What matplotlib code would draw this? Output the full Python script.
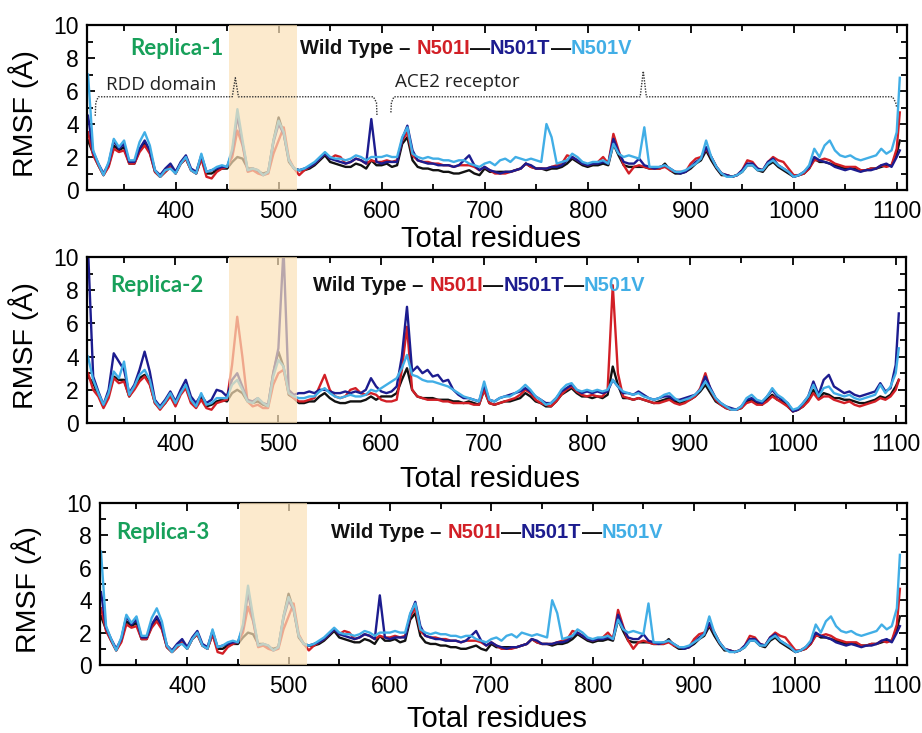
import numpy as np
import matplotlib

matplotlib.use("Agg")
import matplotlib.pyplot as plt
import matplotlib.transforms as mtransforms
from matplotlib.ticker import MultipleLocator

# residue numbers (every 5th residue, last frame at 1103)
residues = np.append(np.arange(315, 1101, 5), 1103)

# ---- replica 1 (replica 3 is the same profile) ----
r1_wt = [
    3.0, 2.2, 1.5, 0.9, 1.5, 2.7, 2.4, 2.6, 1.6, 1.6,
    2.4, 2.8, 2.3, 1.1, 0.8, 1.1, 1.4, 1.0, 1.6, 1.9,
    1.2, 1.0, 1.9, 1.0, 1.0, 1.2, 1.3, 1.3, 1.7, 2.0,
    1.9, 1.3, 1.3, 1.1, 1.0, 1.1, 3.0, 4.4, 3.4, 1.7,
    1.3, 1.2, 1.2, 1.3, 1.5, 1.8, 2.1, 1.7, 1.6, 1.5,
    1.4, 1.4, 1.6, 1.5, 1.3, 1.8, 1.5, 1.5, 1.6, 1.4,
    1.5, 2.8, 3.2, 1.8, 1.4, 1.3, 1.3, 1.2, 1.2, 1.1,
    1.1, 1.0, 1.0, 1.1, 1.2, 1.0, 0.9, 1.3, 1.1, 1.1,
    1.1, 1.1, 1.1, 1.2, 1.3, 1.6, 1.4, 1.3, 1.3, 1.2,
    1.3, 1.3, 1.4, 1.6, 1.9, 1.7, 1.5, 1.4, 1.5, 1.5,
    1.6, 1.5, 2.8, 2.1, 1.5, 1.4, 1.4, 1.4, 1.4, 1.3,
    1.3, 1.3, 1.6, 1.2, 1.0, 1.0, 1.1, 1.3, 1.6, 1.8,
    2.4, 1.8, 1.3, 0.9, 0.9, 0.8, 0.9, 1.1, 1.5, 1.5,
    1.2, 1.1, 1.5, 1.7, 1.4, 1.2, 1.0, 0.8, 0.9, 1.0,
    1.3, 1.9, 1.7, 1.7, 1.6, 1.5, 1.4, 1.3, 1.3, 1.3,
    1.2, 1.2, 1.3, 1.3, 1.4, 1.5, 1.5, 2.2, 3.0,
]
r1_n501i = [
    3.5, 2.1, 1.5, 0.9, 1.4, 2.5, 2.3, 2.4, 1.6, 1.6,
    2.3, 2.7, 2.2, 1.1, 0.8, 1.1, 1.4, 1.0, 1.6, 1.9,
    1.2, 1.0, 1.9, 0.8, 0.7, 1.1, 1.3, 1.4, 2.0, 3.6,
    2.7, 1.1, 1.2, 1.0, 0.9, 1.0, 2.2, 3.0, 3.8, 1.9,
    1.3, 0.9, 1.2, 1.4, 1.6, 1.9, 2.2, 1.9, 2.1, 2.0,
    1.6, 1.7, 1.9, 1.8, 1.6, 1.8, 1.7, 1.7, 1.8, 1.7,
    1.8, 3.0, 3.5, 2.1, 1.8, 1.7, 1.7, 1.6, 1.6, 1.5,
    1.5, 1.4, 1.5, 1.5, 1.5, 1.4, 1.2, 1.4, 1.2, 1.0,
    1.0, 1.0, 1.1, 1.2, 1.3, 1.6, 1.4, 1.3, 1.3, 1.3,
    1.4, 1.5, 1.6, 2.1, 2.0, 1.8, 1.6, 1.5, 1.6, 1.7,
    2.0, 1.6, 3.4, 2.4, 1.5, 1.0, 1.4, 1.5, 1.4, 1.3,
    1.3, 1.3, 1.4, 1.2, 1.1, 1.1, 1.1, 1.6, 1.9, 2.0,
    2.5, 2.0, 1.4, 1.0, 0.9, 0.8, 0.9, 1.2, 1.8, 1.7,
    1.3, 1.2, 1.7, 2.0, 1.8, 1.7, 1.3, 0.9, 0.9, 1.0,
    1.3, 1.8, 1.8, 1.9, 1.8, 1.6, 1.5, 1.4, 1.4, 1.4,
    1.2, 1.2, 1.3, 1.3, 1.5, 1.4, 1.5, 2.5, 4.7,
]
r1_n501t = [
    4.5, 2.3, 1.6, 1.0, 1.6, 3.0, 2.5, 2.8, 1.7, 1.7,
    2.5, 3.0, 2.4, 1.2, 0.9, 1.3, 1.6, 1.1, 1.7, 2.1,
    1.3, 1.1, 2.1, 1.1, 1.2, 1.3, 1.4, 1.4, 2.3, 4.5,
    2.8, 1.2, 1.3, 1.2, 0.9, 1.1, 2.9, 4.0, 3.4, 1.8,
    1.3, 1.2, 1.3, 1.4, 1.6, 1.9, 2.2, 1.9, 1.8, 1.7,
    1.6, 1.7, 1.9, 1.8, 1.6, 4.3, 1.7, 1.6, 1.7, 1.7,
    1.7, 3.1, 3.9, 2.4, 1.8, 1.7, 1.6, 1.6, 1.5, 1.5,
    1.5, 1.4, 1.5, 1.8, 2.1, 1.5, 1.2, 1.4, 1.2, 1.1,
    1.0, 1.1, 1.1, 1.2, 1.3, 1.6, 1.5, 1.3, 1.3, 1.3,
    1.4, 1.4, 1.5, 1.8, 2.0, 1.8, 1.6, 1.5, 1.6, 1.6,
    1.7, 1.6, 3.1, 2.3, 1.7, 1.6, 1.6, 1.9, 1.5, 1.4,
    1.3, 1.4, 1.5, 1.3, 1.1, 1.0, 1.1, 1.4, 1.7, 1.9,
    2.6, 2.0, 1.4, 1.0, 0.9, 0.8, 0.9, 1.2, 1.6, 1.6,
    1.3, 1.2, 1.7, 1.9, 1.5, 1.3, 1.1, 0.8, 0.9, 1.1,
    1.4, 2.0, 1.8, 1.7, 1.6, 1.4, 1.3, 1.2, 1.3, 1.2,
    1.1, 1.2, 1.2, 1.3, 1.5, 1.6, 1.4, 2.0, 2.4,
]
r1_n501v = [
    7.0, 2.4, 1.6, 0.9, 1.7, 3.1, 2.6, 3.0, 1.8, 1.8,
    2.9, 3.5, 2.7, 1.2, 0.8, 1.2, 1.3, 1.0, 1.6, 2.0,
    1.2, 1.0, 2.2, 1.1, 1.2, 1.4, 1.5, 1.4, 2.5, 4.9,
    3.0, 1.2, 1.3, 1.2, 0.9, 1.1, 3.0, 4.2, 3.5, 1.8,
    1.3, 1.2, 1.3, 1.5, 1.7, 2.0, 2.3, 2.0, 1.9, 1.9,
    1.8, 1.9, 2.1, 2.0, 1.8, 2.0, 2.0, 2.0, 2.1, 2.0,
    2.0, 3.2, 3.8, 2.2, 2.0, 1.9, 2.0, 1.9, 1.9, 1.8,
    1.8, 1.7, 1.8, 1.8, 1.6, 1.5, 1.4, 1.6, 1.7, 1.5,
    1.8, 1.9, 1.7, 2.0, 1.9, 1.8, 1.9, 1.8, 1.7, 4.0,
    3.2, 1.6, 1.7, 1.8, 2.2, 2.0, 1.7, 1.6, 1.7, 1.7,
    1.8, 1.6, 2.8, 2.2, 2.0, 2.1, 2.0, 1.9, 3.8, 1.4,
    1.4, 1.4, 1.5, 1.3, 1.1, 1.1, 1.2, 1.4, 1.6, 1.9,
    3.0, 2.0, 1.4, 1.0, 0.8, 0.8, 0.9, 1.1, 1.5, 1.5,
    1.2, 1.2, 1.6, 1.8, 1.5, 1.3, 1.1, 0.8, 0.9, 1.1,
    1.5, 2.5, 2.0, 2.7, 3.0, 2.4, 2.1, 2.0, 2.1, 1.9,
    1.8, 1.9, 2.0, 2.1, 2.5, 2.2, 2.4, 3.5, 6.8,
]

# ---- replica 2 ----
r2_wt = [
    2.8, 2.4, 1.7, 1.0, 1.7, 2.8, 2.6, 2.6, 1.6, 2.1,
    2.7, 2.9, 2.4, 1.2, 0.9, 1.2, 1.7, 1.1, 1.8, 2.2,
    1.3, 1.0, 1.5, 1.0, 1.1, 1.3, 1.4, 1.3, 1.8, 2.0,
    1.8, 1.3, 1.2, 1.3, 1.1, 1.0, 3.0, 4.3, 3.4, 1.7,
    1.5, 1.2, 1.2, 1.3, 1.3, 1.6, 1.8, 1.5, 1.3, 1.2,
    1.2, 1.3, 1.3, 1.3, 1.4, 1.6, 1.4, 1.6, 1.6, 1.6,
    1.8, 2.6, 3.3, 2.0, 1.6, 1.5, 1.5, 1.5, 1.4, 1.4,
    1.4, 1.3, 1.3, 1.2, 1.3, 1.2, 1.1, 2.0, 1.2, 1.1,
    1.2, 1.3, 1.3, 1.4, 1.5, 1.8, 1.6, 1.3, 1.2, 1.0,
    1.0, 1.3, 1.7, 1.9, 2.1, 1.8, 1.6, 1.6, 1.5, 1.6,
    1.5, 1.7, 3.4, 2.3, 1.5, 1.5, 1.4, 1.5, 1.4, 1.3,
    1.2, 1.3, 1.4, 1.5, 1.3, 1.2, 1.3, 1.4, 1.6, 1.9,
    2.3, 1.8, 1.3, 1.1, 0.9, 0.8, 0.8, 0.9, 1.3, 1.4,
    1.2, 1.1, 1.4, 1.7, 1.4, 1.3, 1.0, 0.7, 0.8, 1.0,
    1.4, 2.0, 1.5, 1.8, 1.7, 1.5, 1.5, 1.4, 1.4, 1.3,
    1.2, 1.2, 1.3, 1.4, 1.6, 1.5, 1.7, 2.2, 2.6,
]
r2_n501i = [
    3.0, 2.0, 1.6, 0.9, 1.5, 2.7, 2.4, 2.5, 1.6, 2.0,
    2.5, 2.8, 2.3, 1.2, 0.8, 1.2, 1.6, 1.0, 1.7, 2.1,
    1.2, 0.9, 1.4, 0.9, 0.8, 1.2, 1.3, 1.4, 3.5, 6.4,
    4.0, 1.3, 1.0, 1.1, 0.9, 0.9, 2.3, 3.0, 3.2, 1.8,
    1.5, 1.3, 1.3, 1.4, 1.5, 2.2, 2.9, 2.0, 1.6, 1.5,
    1.6, 2.0, 2.1, 1.8, 1.7, 1.8, 1.7, 1.4, 1.3, 1.3,
    1.4, 3.2, 5.8, 2.0, 1.6, 1.5, 1.4, 1.4, 1.4, 1.3,
    1.3, 1.2, 1.2, 1.2, 1.2, 1.1, 1.1, 2.0, 1.2, 1.1,
    1.2, 1.3, 1.4, 1.5, 1.7, 2.0, 1.8, 1.4, 1.2, 1.1,
    1.0, 1.3, 1.7, 2.0, 2.2, 1.9, 1.7, 1.6, 1.7, 1.6,
    1.6, 2.0, 8.3, 3.0, 1.6, 1.5, 1.4, 1.5, 1.4, 1.3,
    1.2, 1.2, 1.3, 1.4, 1.2, 1.1, 1.2, 1.4, 1.6, 2.1,
    3.0, 2.0, 1.4, 1.1, 0.9, 0.8, 0.8, 0.9, 1.2, 1.3,
    1.1, 1.1, 1.3, 1.6, 1.4, 1.2, 1.0, 0.7, 0.8, 1.0,
    1.3, 1.8, 1.4, 1.6, 1.6, 1.4, 1.3, 1.2, 1.3, 1.1,
    1.0, 1.1, 1.2, 1.3, 1.5, 1.4, 1.6, 2.0, 2.6,
]
r2_n501t = [
    10.5, 2.8, 1.9, 1.1, 2.0, 4.2, 3.7, 3.2, 1.8, 2.3,
    3.2, 4.3, 3.1, 1.4, 1.0, 1.4, 1.9, 1.3, 2.0, 2.6,
    1.6, 1.2, 1.7, 1.2, 1.4, 2.0, 1.9, 1.6, 2.6, 3.0,
    2.2, 1.4, 1.3, 1.5, 1.2, 1.1, 3.0, 4.5, 10.5, 2.0,
    1.7, 1.8, 1.8, 1.9, 1.8, 2.0, 2.0, 1.9, 1.8, 1.8,
    1.9, 1.8, 1.9, 1.8, 2.0, 2.7, 2.2, 1.9, 1.8, 1.9,
    2.2, 4.0, 7.0, 3.1, 3.4, 3.0, 3.2, 2.8, 2.9, 2.5,
    2.6, 2.0, 1.7, 1.5, 1.5, 1.4, 1.3, 2.3, 1.4, 1.3,
    1.5, 1.6, 1.7, 1.8, 1.9, 2.1, 1.9, 1.6, 1.4, 1.2,
    1.2, 1.5, 1.9, 2.1, 2.3, 2.0, 1.8, 1.9, 1.8, 1.9,
    1.8, 1.9, 2.6, 2.2, 1.8, 1.8, 1.7, 1.9, 1.7, 1.5,
    1.4, 1.5, 1.6, 1.6, 1.4, 1.4, 1.5, 1.6, 1.7, 2.0,
    2.8, 2.1, 1.5, 1.2, 1.0, 0.9, 0.8, 1.0, 1.4, 1.5,
    1.3, 1.2, 1.6, 2.0, 1.6, 1.4, 1.2, 0.7, 0.8, 1.2,
    1.6, 2.5, 1.7, 2.6, 2.9, 2.2, 2.0, 1.8, 1.9, 1.7,
    1.6, 1.7, 1.8, 1.9, 2.4, 1.9, 2.1, 3.5, 6.6,
]
r2_n501v = [
    4.0, 2.6, 1.8, 1.1, 1.8, 3.1, 2.7, 3.7, 1.7, 2.2,
    2.9, 3.2, 2.6, 1.3, 0.9, 1.3, 1.8, 1.2, 1.8, 2.3,
    1.4, 1.0, 1.8, 1.1, 1.2, 1.5, 1.5, 1.5, 2.3, 2.6,
    2.0, 1.3, 1.2, 1.5, 1.2, 1.0, 2.8, 3.8, 3.4, 1.8,
    1.6, 1.5, 1.5, 1.6, 1.6, 1.9, 2.1, 1.8, 1.6, 1.5,
    1.6, 1.7, 1.6, 1.6, 1.7, 2.0, 1.9, 2.1, 2.3, 2.5,
    2.7, 3.3, 4.1, 2.9, 2.8, 2.6, 2.5, 2.5, 2.4, 2.3,
    2.2, 2.0, 1.8, 1.6, 1.5, 1.4, 1.3, 2.5, 1.4, 1.3,
    1.5, 1.6, 1.6, 1.8, 2.0, 2.3, 2.0, 1.6, 1.4, 1.1,
    1.2, 1.5, 2.0, 2.3, 2.4, 2.0, 1.9, 2.0, 1.9, 2.0,
    1.9, 2.0, 2.6, 2.2, 1.9, 1.8, 1.7, 1.8, 1.6, 1.5,
    1.4, 1.5, 1.7, 1.8, 1.5, 1.3, 1.4, 1.5, 1.7, 2.0,
    2.5, 2.0, 1.5, 1.2, 1.0, 0.8, 0.8, 1.0, 1.5, 1.7,
    1.4, 1.3, 1.6, 2.1, 1.7, 1.5, 1.2, 0.8, 0.9, 1.2,
    1.6, 2.3, 1.6, 2.1, 2.2, 1.8, 1.7, 1.6, 1.7, 1.5,
    1.4, 1.5, 1.6, 1.7, 2.3, 1.8, 2.2, 3.0, 4.5,
]

variants = ["Wild Type", "N501I", "N501T", "N501V"]
colors = ["#111111", "#d21f26", "#1c1c8f", "#41aee6"]
replicas = {
    "Replica-1": [r1_wt, r1_n501i, r1_n501t, r1_n501v],
    "Replica-2": [r2_wt, r2_n501i, r2_n501t, r2_n501v],
    "Replica-3": [r1_wt, r1_n501i, r1_n501t, r1_n501v],
}
rbd_span = (452, 518)  # highlighted receptor-binding region

# domain braces drawn above replica 1 (residue, RMSF)
rdd_brace_x = [322, 322.5, 325, 455, 458, 461, 592, 595, 595.5]
rdd_brace_y = [4.5, 5.3, 5.65, 5.65, 6.8, 5.65, 5.65, 5.3, 4.5]
ace_brace_x = [609, 609.5, 612, 851, 854, 857, 1096, 1099, 1100]
ace_brace_y = [4.7, 5.3, 5.65, 5.65, 7.2, 5.65, 5.65, 5.3, 5.0]

W, H = 922, 733
# axes boxes in pixels: left, top, right, bottom
boxes = [(87, 25, 907, 190), (87, 257, 906, 423), (100, 503, 907, 665)]
label_pos = [  # (replica text x, wild-type text x, text y, xlabel y, ylabel x)
    (356, 521, 8.6, -0.215, -0.058),
    (337, 534, 8.3, -0.255, -0.058),
    (330, 542, 8.15, -0.245, -0.072),
]

plt.rcParams["font.family"] = ["Liberation Sans", "DejaVu Sans"]

fig = plt.figure(figsize=(W / 100, H / 100), dpi=100)
renderer = fig.canvas.get_renderer()


def colored_text(ax, x, y, parts, **kw):
    trans = ax.transData
    for s, c in parts:
        t = ax.text(x, y, s, color=c, transform=trans, va="center", ha="left", **kw)
        t.draw(renderer)
        ex = t.get_window_extent(renderer)
        trans = mtransforms.offset_copy(t.get_transform(), x=ex.width, units="dots")


for i, (name, series) in enumerate(replicas.items()):
    l, t, r, b = boxes[i]
    ax = fig.add_axes([l / W, 1 - b / H, (r - l) / W, (b - t) / H])
    for vals, c in zip(series, colors):
        ax.plot(residues, vals, color=c, lw=1.7, zorder=2)
    ax.axvspan(*rbd_span, color="#fce2b8", alpha=0.7, lw=0, zorder=3)

    ax.set_xlim(314, 1110)
    ax.set_ylim(0, 10)
    ax.xaxis.set_major_locator(MultipleLocator(100))
    ax.xaxis.set_minor_locator(MultipleLocator(50))
    ax.yaxis.set_major_locator(MultipleLocator(2))
    ax.yaxis.set_minor_locator(MultipleLocator(1))
    ax.tick_params(which="both", direction="in", top=True, right=True, width=1.3)
    ax.tick_params(which="major", length=6, labelsize=16.5, pad=7)
    ax.tick_params(which="minor", length=4)
    ax.tick_params(axis="y", pad=6)
    for sp in ax.spines.values():
        sp.set_linewidth(1.6)

    rx, wx, ty, xly, ylx = label_pos[i]
    ax.set_xlabel("Total residues", fontsize=21)
    ax.xaxis.set_label_coords(0.492, xly)
    ax.set_ylabel("RMSF (Å)", fontsize=20.5)
    ax.yaxis.set_label_coords(ylx, 0.465)

    ax.text(rx, ty, name, color="#17a05a", fontsize=16, fontweight="bold",
            family=["Lato", "DejaVu Sans"], va="center", zorder=5)
    colored_text(ax, wx, ty, [
        ("Wild Type – ", colors[0]), ("N501I", colors[1]), ("—", colors[0]),
        ("N501T", colors[2]), ("—", colors[0]), ("N501V", colors[3]),
    ], fontsize=14.5, fontweight="bold", zorder=5)

    if i == 0:
        ax.plot(rdd_brace_x, rdd_brace_y, color="#333333", lw=1.0, ls=(0, (1, 1)), zorder=4)
        ax.plot(ace_brace_x, ace_brace_y, color="#333333", lw=1.0, ls=(0, (1, 1)), zorder=4)
        ax.text(332, 6.35, "RDD domain", fontsize=13.5, family=["Open Sans", "DejaVu Sans"],
                va="center", color="#222222", zorder=5)
        ax.text(613, 6.55, "ACE2 receptor", fontsize=13.5, family=["Open Sans", "DejaVu Sans"],
                va="center", color="#222222", zorder=5)

fig.savefig("out.png", dpi=100)
